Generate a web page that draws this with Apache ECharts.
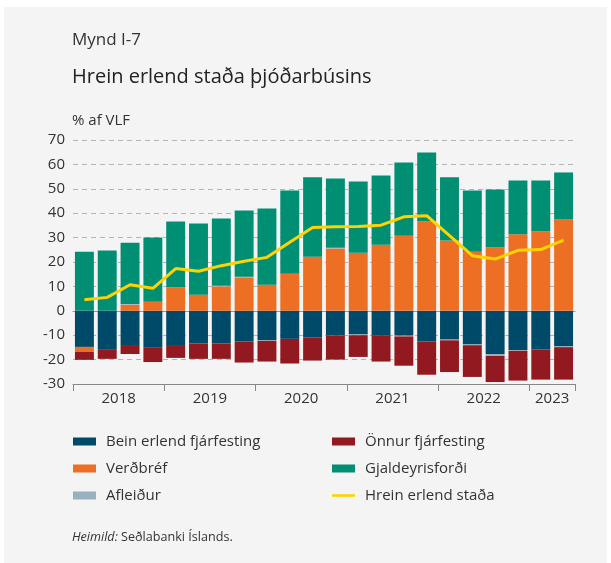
<!DOCTYPE html>
<html>
<head>
<meta charset="utf-8">
<script src="https://cdn.jsdelivr.net/npm/echarts@6/dist/echarts.min.js"></script>
<style>
  html, body { margin: 0; padding: 0; background: #ffffff; }
  #main { position: absolute; left: 4px; top: 7px; width: 603px; height: 556px; background: #f4f4f4; }
</style>
</head>
<body>
<div id="main"></div>
<script>
var quarters = ['2018K1', '2018K2', '2018K3', '2018K4', '2019K1', '2019K2', '2019K3', '2019K4',
    '2020K1', '2020K2', '2020K3', '2020K4', '2021K1', '2021K2', '2021K3', '2021K4',
    '2022K1', '2022K2', '2022K3', '2022K4', '2023K1', '2023K2'];
var yearTickPos = [0, 4, 8, 12, 16, 20, 22];
var yearLabelPos = [2, 6, 10, 14, 18, 21];
var yearLabels = ['2018', '2019', '2020', '2021', '2022', '2023'];

var bein = [-14.8, -16.0, -14.4, -14.9, -14.4, -13.4, -13.4, -12.6, -12.0, -11.5, -11.0, -10.1,
    -9.7, -10.0, -10.2, -12.6, -11.8, -13.8, -17.7, -16.1, -15.9, -14.6];
var verdbref = [-2.0, 0, 2.5, 3.7, 9.5, 6.6, 10.0, 13.7, 10.7, 15.2, 22.2, 25.5,
    23.8, 27.1, 30.8, 36.7, 28.8, 24.2, 26.0, 31.4, 32.6, 37.5];
var afleidur = [0, 0, 0.3, 0, 0, 0, 0.3, 0.3, -0.3, 0, 0, 0.3,
    -0.3, 0, -0.3, 0, -0.3, -0.3, -0.8, -0.3, 0, -0.3];
var onnur = [-3.3, -3.7, -3.3, -6.1, -4.9, -6.3, -6.3, -8.6, -8.5, -10.1, -9.4, -9.9,
    -8.9, -10.8, -12.0, -13.6, -13.0, -13.0, -10.7, -12.2, -12.3, -13.3];
var gjaldeyri = [24.2, 24.7, 25.1, 26.3, 27.1, 29.2, 27.5, 27.1, 31.2, 34.1, 32.5, 28.4,
    29.2, 28.4, 30.0, 28.2, 25.9, 25.1, 23.7, 22.0, 20.8, 19.2];
var hrein = [4.5, 5.5, 10.7, 9.2, 17.3, 16.2, 18.5, 20.3, 21.9, 28.1, 34.1, 34.4,
    34.5, 35.1, 38.5, 39.0, 30.8, 22.6, 21.2, 24.8, 25.1, 29.0];

var font = '"Open Sans", "Noto Sans", sans-serif';
var chart = echarts.init(document.getElementById('main'));

var option = {
    animation: false,
    textStyle: { fontFamily: font },
    title: [
        { text: 'Mynd I-7', left: 68, top: 25, padding: 0, textStyle: { fontSize: 17, fontWeight: 'normal', color: '#333', fontFamily: font } },
        { text: 'Hrein erlend staða þjóðarbúsins', left: 68, top: 60, padding: 0, textStyle: { fontSize: 20, fontWeight: 'normal', color: '#222', fontFamily: font } },
        { text: '% af VLF', left: 68, top: 106, padding: 0, textStyle: { fontSize: 15, fontWeight: 'normal', color: '#333', fontFamily: font } },
        {
            text: '{i|Heimild:} Seðlabanki Íslands.', left: 68, top: 524, padding: 0,
            textStyle: {
                fontSize: 12.6, fontWeight: 'normal', color: '#333', fontFamily: font,
                rich: { i: { fontStyle: 'italic', fontSize: 12.6, color: '#333', fontFamily: font } }
            }
        }
    ],
    legend: [
        {
            orient: 'vertical', left: 69, top: 425, padding: 0, itemWidth: 23, itemHeight: 8, itemGap: 8,
            textStyle: { fontSize: 15, color: '#333', lineHeight: 19, padding: [0, 0, 0, 5] },
            data: [{ name: 'Bein erlend fjárfesting', icon: 'rect' }, { name: 'Verðbréf', icon: 'rect' }, { name: 'Afleiður', icon: 'rect' }]
        },
        {
            orient: 'vertical', left: 328, top: 425, padding: 0, itemWidth: 23, itemHeight: 8, itemGap: 8,
            textStyle: { fontSize: 15, color: '#333', lineHeight: 19, padding: [0, 0, 0, 5] },
            data: [
                { name: 'Önnur fjárfesting', icon: 'rect' },
                { name: 'Gjaldeyrisforði', icon: 'rect' },
                { name: 'Hrein erlend staða', icon: 'path://M0,0L23,0L23,2.6L0,2.6Z' }
            ]
        }
    ],
    grid: { left: 69, right: 32, top: 133, bottom: 179 },
    xAxis: [
        {
            type: 'category',
            data: quarters,
            axisLine: { show: true, onZero: true, lineStyle: { color: '#999', width: 1 } },
            axisTick: { show: false },
            axisLabel: { show: false }
        },
        {
            type: 'value',
            min: 0,
            max: 22,
            position: 'bottom',
            axisLine: { show: true, onZero: false, lineStyle: { color: '#888', width: 1 } },
            axisTick: { show: true, length: 7, customValues: yearTickPos, lineStyle: { color: '#888' } },
            axisLabel: {
                customValues: yearLabelPos, fontSize: 15, color: '#333', margin: 7,
                formatter: function (v) { return yearLabels[yearLabelPos.indexOf(v)]; }
            },
            splitLine: { show: false }
        }
    ],
    yAxis: {
        type: 'value',
        min: -30,
        max: 70,
        interval: 10,
        axisLine: { show: false },
        axisTick: { show: false },
        axisLabel: { fontSize: 15, color: '#333', margin: 8 },
        splitLine: { lineStyle: { color: '#b4b4b4', type: [5, 4], width: 1 } }
    },
    series: [
        { name: 'Bein erlend fjárfesting', type: 'bar', stack: 'a', barCategoryGap: '17%', itemStyle: { color: '#004a69' }, data: bein },
        { name: 'Verðbréf', type: 'bar', stack: 'a', itemStyle: { color: '#ec6f24' }, data: verdbref },
        { name: 'Afleiður', type: 'bar', stack: 'a', itemStyle: { color: '#98b1c0' }, data: afleidur },
        { name: 'Önnur fjárfesting', type: 'bar', stack: 'a', itemStyle: { color: '#92191f' }, data: onnur },
        { name: 'Gjaldeyrisforði', type: 'bar', stack: 'a', itemStyle: { color: '#008f72' }, data: gjaldeyri },
        {
            name: 'Hrein erlend staða', type: 'line', symbol: 'none', z: 5,
            lineStyle: { color: '#ffd200', width: 3 }, itemStyle: { color: '#ffd200' },
            data: hrein
        }
    ]
};
chart.setOption(option);
</script>
</body>
</html>
